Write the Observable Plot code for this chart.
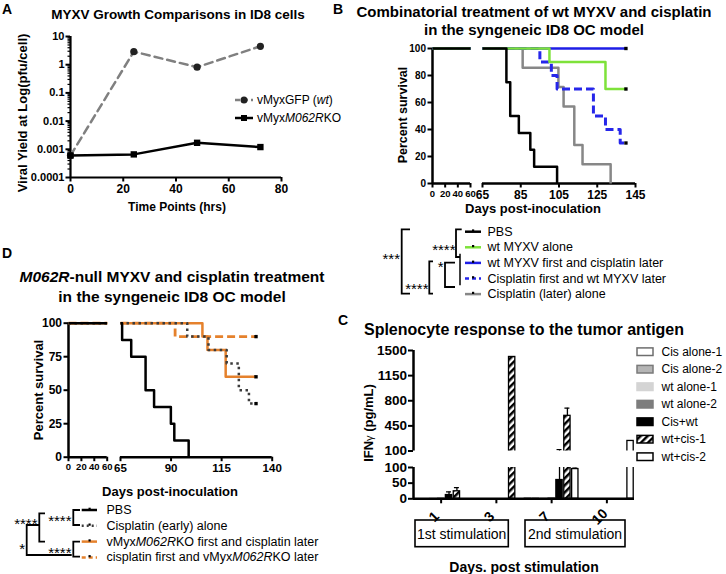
<!DOCTYPE html>
<html>
<head>
<meta charset="utf-8">
<script src="https://cdn.jsdelivr.net/npm/d3@7"></script>
<script src="https://cdn.jsdelivr.net/npm/@observablehq/plot@0.6"></script>
<style>
  html,body{margin:0;padding:0;background:#fff;}
  #fig{position:relative;width:726px;height:574px;overflow:hidden;background:#fff;font-family:"Liberation Sans",Arial,Helvetica,sans-serif;color:#000;}
  .t{position:absolute;white-space:nowrap;line-height:1;color:#000;font-family:"Liberation Sans",Arial,Helvetica,sans-serif;}
  .p{position:absolute;}
  .p svg{display:block;overflow:visible;}
</style>
</head>
<body>
<svg width="0" height="0" style="position:absolute">
  <defs>
    <pattern id="hatchC" patternUnits="userSpaceOnUse" width="5" height="5" patternTransform="rotate(45)">
      <rect width="5" height="5" fill="#fff"></rect>
      <rect width="2.5" height="5" fill="#000"></rect>
    </pattern>
  </defs>
</svg>
<div id="fig"></div>
<script>
const FONT = '"Liberation Sans", Arial, Helvetica, sans-serif';

// ===================== DATA =====================
// Panel A: viral yield (pfu/cell) by hours
const hoursA = [0, 24, 48, 72];
const yieldWT = [0.0006, 2.9, 0.82, 4.5];
const yieldKO = [0.0006, 0.00066, 0.0017, 0.0012];
const yTicksA = [0.0001, 0.001, 0.01, 0.1, 1, 10];
const xTicksA = [0, 20, 40, 60, 80];
const legendA = ["vMyxGFP (<i>wt</i>)", "vMyx<i>M062R</i>KO"];

// Panel B: Kaplan-Meier survival (days, percent)
const groupsB = ["PBS", "wt MYXV alone", "wt MYXV first and cisplatin later", "Cisplatin first and wt MYXV later", "Cisplatin (later) alone"];
const daysB_PBS = [0, 77.5, 79.5, 84, 90, 92, 104];
const survB_PBS = [100, 75, 50, 37.5, 25, 12.5, 0];
const daysB_wt = [0, 100, 129.3, 140];
const survB_wt = [100, 90, 70, 70];
const daysB_wtCis = [0, 140];
const survB_wtCis = [100, 100];
const daysB_cisWt = [0, 95, 101, 104, 123, 129.3, 137, 140];
const survB_cisWt = [100, 90, 80, 70, 50, 40, 30, 30];
const daysB_cis = [0, 86, 104.7, 107.4, 113, 117.3, 132];
const survB_cis = [100, 85.7, 71.4, 57.1, 28.6, 14.3, 0];
const yTicksB = [0, 20, 40, 60, 80, 100];
const xTicksB1 = [0, 20, 40, 60];
const xTicksB2 = [65, 85, 105, 125, 145];

// Panel D: Kaplan-Meier survival (days, percent)
const groupsD = ["PBS", "Cisplatin (early) alone", "vMyx<i>M062R</i>KO first and cisplatin later", "cisplatin first and vMyx<i>M062R</i>KO later"];
const daysD_PBS = [0, 65.8, 70.3, 77.4, 81.6, 89.9, 91.6, 98.7];
const survD_PBS = [100, 87.5, 75, 50, 37.5, 25, 12.5, 0];
const daysD_cis = [0, 98, 108.5, 117.5, 123.5, 128.5, 132];
const survD_cis = [100, 90, 80, 70, 50, 40, 40];
const daysD_koCis = [0, 105.5, 108, 117, 132];
const survD_koCis = [100, 90, 80, 60, 60];
const daysD_cisKo = [0, 92, 132];
const survD_cisKo = [100, 90, 90];
const yTicksD = [0, 25, 50, 75, 100];
const xTicksD1 = [0, 20, 40, 60];
const xTicksD2 = [65, 90, 115, 140];

// Panel C: IFN-gamma (pg/mL) by day post stimulation
const daysC = ["1", "3", "7", "10"];
const seriesC = ["Cis alone-1", "Cis alone-2", "wt alone-1", "wt alone-2", "Cis+wt", "wt+cis-1", "wt+cis-2"];
const ifn_cisAlone1 = [0, 0, 1, 0];
const ifn_cisAlone2 = [0, 0, 1, 0];
const ifn_wtAlone1 = [1, 0, 2, 0];
const ifn_wtAlone2 = [1, 0, 2, 0];
const ifn_cisWt = [12, 0, 60, 0];
const ifn_wtCis1 = [24, 1410, 590, 0];
const ifn_wtCis2 = [0, 0, 95, 240];
const err_cisWt = [10, 0, 60, 0];
const err_wtCis1 = [12, 0, 107, 0];
const err_wtCis2 = [0, 0, 3, 0];
const yTicksCHigh = [100, 450, 800, 1150, 1500];
const yTicksCLow = [0, 50, 100];
const stimGroups = ["1st stimulation", "2nd stimulation"];

// ===================== HELPERS =====================
const fig = document.getElementById("fig");
function addText(html, x, y, o = {}) {
  const el = document.createElement("div");
  el.className = "t";
  el.innerHTML = html;
  el.style.left = x + "px";
  el.style.top = y + "px";
  el.style.fontSize = (o.size || 12) + "px";
  el.style.fontWeight = o.bold ? "bold" : "normal";
  const a = o.anchor || "middle";
  const tx = a === "middle" ? "-50%" : a === "end" ? "-100%" : "0";
  el.style.transform = `translate(${tx},-50%)` + (o.rotate ? ` rotate(${o.rotate}deg)` : "");
  fig.appendChild(el);
  return el;
}
function place(node, left, top) {
  const d = document.createElement("div");
  d.className = "p";
  d.style.left = left + "px";
  d.style.top = top + "px";
  d.appendChild(node);
  fig.appendChild(d);
}
const plotStyle = (size) => ({background: "transparent", color: "#000", fontFamily: FONT, fontSize: size + "px", fontWeight: "bold", overflow: "visible"});

function survAt(days, surv, t) {
  let s = surv[0];
  for (let i = 0; i < days.length; i++) if (days[i] <= t) s = surv[i];
  return s;
}
function segment(days, surv, lo, hi) {
  const pts = [{d: lo, s: survAt(days, surv, lo)}];
  for (let i = 0; i < days.length; i++) if (days[i] > lo && days[i] <= hi) pts.push({d: days[i], s: surv[i]});
  const last = Math.min(hi, days[days.length - 1]);
  if (pts[pts.length - 1].d < last) pts.push({d: last, s: survAt(days, surv, last)});
  return pts;
}

function survPanel(cfg) {
  const [lo, hi] = cfg.xDomain;
  const marks = [];
  if (cfg.yTicks) {
    marks.push(Plot.axisY({ticks: cfg.yTicks, tickSize: 4.5, tickPadding: 2, strokeWidth: 2, fontSize: cfg.yFont, tickFormat: d => String(d), label: null}));
    marks.push(Plot.ruleX([lo], {strokeWidth: 2.5}));
  }
  marks.push(Plot.axisX({ticks: cfg.xTicks, tickSize: 4.5, tickPadding: 2, strokeWidth: 2, fontSize: cfg.xFont, tickFormat: d => String(d), label: null}));
  marks.push(Plot.ruleY([0], {strokeWidth: 2.5}));
  for (const g of cfg.groups) {
    const opts = {x: "d", y: "s", curve: "step-after", stroke: g.color, strokeWidth: g.width, strokeLinecap: "butt"};
    if (g.dash) opts.strokeDasharray = g.dash;
    marks.push(Plot.line(segment(g.days, g.surv, lo, hi), opts));
  }
  if (cfg.ends) {
    const ends = cfg.groups.filter(g => g.surv[g.surv.length - 1] > 0)
      .map(g => ({d: g.days[g.days.length - 1], s: g.surv[g.surv.length - 1]}));
    marks.push(Plot.dot(ends, {x: "d", y: "s", symbol: "square", r: 1.9, fill: "#000", stroke: "none"}));
  }
  return Plot.plot({
    width: cfg.width, height: cfg.height,
    marginLeft: cfg.ml, marginRight: cfg.mr, marginTop: cfg.mt, marginBottom: cfg.mb,
    style: plotStyle(cfg.xFont),
    x: {domain: cfg.xDomain, axis: null, label: null},
    y: {domain: [0, 100], axis: null, label: null},
    marks
  });
}

// ===================== PANEL A =====================
const rowsWT = hoursA.map((h, i) => ({h, v: yieldWT[i]}));
const rowsKO = hoursA.map((h, i) => ({h, v: yieldKO[i]}));
const minorA = [];
for (let e = -4; e < 1; e++) for (let k = 2; k <= 9; k++) minorA.push(k * Math.pow(10, e));
const plotA = Plot.plot({
  width: 300, height: 215, marginLeft: 70, marginRight: 19, marginTop: 36, marginBottom: 38,
  style: plotStyle(11),
  x: {domain: [0, 80], axis: null, label: null},
  y: {type: "log", domain: [1e-4, 10], axis: null, label: null},
  marks: [
    Plot.axisY({ticks: minorA, tickSize: 2.5, tickFormat: () => "", strokeWidth: 1.2, label: null}),
    Plot.axisY({ticks: yTicksA, tickSize: 4.5, tickPadding: 1.5, tickFormat: d => String(d), strokeWidth: 2, fontSize: 11, label: null}),
    Plot.axisX({ticks: xTicksA, tickSize: 4.5, tickPadding: 2, strokeWidth: 2, fontSize: 12, label: null}),
    Plot.ruleX([0], {strokeWidth: 2.2}),
    Plot.ruleY([1e-4], {strokeWidth: 2.2}),
    Plot.line(rowsWT, {x: "h", y: "v", stroke: "#808080", strokeWidth: 2.5, strokeDasharray: "8,5"}),
    Plot.line(rowsKO, {x: "h", y: "v", stroke: "#000", strokeWidth: 2.5}),
    Plot.dot(rowsWT, {x: "h", y: "v", r: 3.6, fill: "#222", stroke: "none"}),
    Plot.dot(rowsKO, {x: "h", y: "v", symbol: "square", r: 3.6, fill: "#000", stroke: "none"})
  ]
});
place(plotA, 0, 0);

// ===================== PANEL B =====================
const styleB = [
  {color: "#000", width: 2.5},
  {color: "#7ee23a", width: 2.5},
  {color: "#1e1ee6", width: 2.5},
  {color: "#2626ea", width: 3, dash: "8,4"},
  {color: "#878787", width: 2.5}
];
const dataB = [
  [daysB_PBS, survB_PBS], [daysB_wt, survB_wt], [daysB_wtCis, survB_wtCis], [daysB_cisWt, survB_cisWt], [daysB_cis, survB_cis]
];
const gB = groupsB.map((name, i) => ({name, days: dataB[i][0], surv: dataB[i][1], ...styleB[i]}));
const drawOrderB = [gB[4], gB[3], gB[2], gB[1], gB[0]];
place(survPanel({groups: drawOrderB, xDomain: [0, 60], xTicks: xTicksB1, yTicks: yTicksB, xFont: 9.5, yFont: 10,
  width: 95, height: 175, ml: 52, mr: 5, mt: 18, mb: 22}), 380, 30);
place(survPanel({groups: drawOrderB, xDomain: [65, 145], xTicks: xTicksB2, xFont: 12, ends: true,
  width: 170, height: 175, ml: 6, mr: 11, mt: 18, mb: 22}), 476, 30);

// ===================== PANEL D =====================
const styleD = [
  {color: "#000", width: 2.5},
  {color: "#3c3c3c", width: 2.5, dash: "2.5,3.5"},
  {color: "#e5812c", width: 2.5},
  {color: "#e5812c", width: 2.8, dash: "8,4"}
];
const dataD = [[daysD_PBS, survD_PBS], [daysD_cis, survD_cis], [daysD_koCis, survD_koCis], [daysD_cisKo, survD_cisKo]];
const gD = groupsD.map((name, i) => ({name, days: dataD[i][0], surv: dataD[i][1], ...styleD[i]}));
const drawOrderD = [gD[2], gD[3], gD[1], gD[0]];
place(survPanel({groups: drawOrderD, xDomain: [0, 60], xTicks: xTicksD1, yTicks: yTicksD, xFont: 9.5, yFont: 12,
  width: 90, height: 180, ml: 48, mr: 3.3, mt: 22.7, mb: 23.3}), 20, 300);
place(survPanel({groups: drawOrderD, xDomain: [65, 140], xTicks: xTicksD2, xFont: 11.5, ends: true,
  width: 170, height: 180, ml: 8, mr: 10.3, mt: 22.7, mb: 23.3}), 112, 300);

// ===================== PANEL C =====================
const valsC = [ifn_cisAlone1, ifn_cisAlone2, ifn_wtAlone1, ifn_wtAlone2, ifn_cisWt, ifn_wtCis1, ifn_wtCis2];
const errsC = [null, null, null, null, err_cisWt, err_wtCis1, err_wtCis2];
const styleC = [
  {fill: "#fff", stroke: "#6e6e6e"},
  {fill: "#b5b5b5", stroke: "#7a7a7a"},
  {fill: "#d4d4d4", stroke: "#d4d4d4"},
  {fill: "#7d7d7d", stroke: "#7d7d7d"},
  {fill: "#000", stroke: "#000"},
  {fill: "url(#hatchC)", stroke: "#000"},
  {fill: "#fff", stroke: "#000"}
];
const rowsC = [];
seriesC.forEach((s, si) => daysC.forEach((day, di) => rowsC.push({s, si, di, v: valsC[si][di], e: errsC[si] ? errsC[si][di] : 0})));
const cx1 = d => d.di - 0.5 + (d.si + 0.1) / 7;
const cx2 = d => d.di - 0.5 + (d.si + 0.9) / 7;
const cxm = d => d.di - 0.5 + (d.si + 0.5) / 7;

function cChart(cfg) {
  const marks = [
    Plot.axisY({ticks: cfg.yTicks, tickSize: 5, tickPadding: 1.5, strokeWidth: 2, fontSize: 13.5, tickFormat: d => String(d), label: null}),
    Plot.ruleX([-0.5], {strokeWidth: 2.5})
  ];
  seriesC.forEach((s, si) => {
    const rows = rowsC.filter(r => r.si === si && r.v > 0 && r.v > cfg.yDomain[0]);
    marks.push(Plot.rect(rows, {x1: cx1, x2: cx2, y1: () => 0, y2: "v", fill: styleC[si].fill, stroke: styleC[si].stroke, strokeWidth: 1.3, clip: true}));
  });
  const errRows = rowsC.filter(r => r.e > 0 && r.v + r.e > cfg.yDomain[0]);
  marks.push(Plot.ruleX(errRows, {x: cxm, y1: "v", y2: d => d.v + d.e, strokeWidth: 1.3, clip: true}));
  marks.push(Plot.ruleY(errRows, {y: d => d.v + d.e, x1: d => cxm(d) - 0.045, x2: d => cxm(d) + 0.045, strokeWidth: 1.3, clip: true}));
  if (cfg.bottom) {
    marks.push(Plot.axisX({ticks: [0, 1, 2, 3], tickFormat: () => "", tickSize: 5, strokeWidth: 2, label: null}));
    marks.push(Plot.ruleY([0], {strokeWidth: 2.5}));
    marks.push(Plot.text(daysC.map((d, i) => ({i, d})), {x: "i", y: () => 0, text: "d", rotate: -45, dx: -7, dy: 18, fontSize: 14, fontWeight: "bold"}));
  }
  return Plot.plot({
    width: 290, height: cfg.height, marginLeft: 53, marginRight: 16, marginTop: cfg.mt, marginBottom: cfg.mb,
    style: plotStyle(13.5),
    x: {domain: [-0.5, 3.5], axis: null, label: null},
    y: {domain: cfg.yDomain, axis: null, label: null},
    marks
  });
}
place(cChart({yDomain: [100, 1500], yTicks: yTicksCHigh, height: 130, mt: 20, mb: 9.5}), 360, 330);
place(cChart({yDomain: [0, 100], yTicks: yTicksCLow, height: 100, mt: 12, mb: 56.7, bottom: true}), 360, 455);

// ===================== TEXT =====================
addText("A", 7, 9, {size: 14, bold: true});
addText("MYXV Growth Comparisons in ID8 cells", 178, 15, {size: 13.5, bold: true});
addText("Viral Yield at Log(pfu/cell)", 22, 113, {size: 13, bold: true, rotate: -90});
addText("Time Points (hrs)", 177, 207, {size: 12, bold: true});
legendA.forEach((t, i) => addText(t, 257, 100 + i * 18, {size: 12, anchor: "start"}));

addText("B", 338, 9, {size: 14, bold: true});
addText("Combinatorial treatment of wt MYXV and cisplatin", 534, 11, {size: 15, bold: true});
addText("in the syngeneic ID8 OC model", 534, 29, {size: 15, bold: true});
addText("Percent survival", 403, 115, {size: 12.5, bold: true, rotate: -90});
addText("Days post-inoculation", 533, 208, {size: 13, bold: true});
groupsB.forEach((t, i) => addText(t, 487.5, 231.7 + i * 15.6, {size: 12.5, anchor: "start"}));

addText("D", 7, 253, {size: 14, bold: true});
addText("<i>M062R</i>-null MYXV and cisplatin treatment", 172, 277, {size: 15.5, bold: true});
addText("in the syngeneic ID8 OC model", 172, 297, {size: 15.5, bold: true});
addText("Percent survival", 38, 390, {size: 13, bold: true, rotate: -90});
addText("Days post-inoculation", 170, 491, {size: 13, bold: true});
groupsD.forEach((t, i) => addText(t, 106.5, 510 + i * 15.8, {size: 12.5, anchor: "start"}));

addText("C", 343, 320, {size: 14, bold: true});
addText("Splenocyte response to the tumor antigen", 524, 330, {size: 16, bold: true});
addText("IFN<span style='font-weight:normal;font-size:11px'>γ</span> (pg/mL)", 368, 423, {size: 13, bold: true, rotate: -90});
seriesC.forEach((t, i) => addText(t, 661.5, 351.7 + i * 17.5, {size: 12, anchor: "start"}));
addText("Days. post stimulation", 524, 566.5, {size: 14, bold: true});

// ===================== OVERLAY (legend keys, brackets, boxes) =====================
const ov = d3.create("svg").attr("width", 726).attr("height", 574)
  .style("position", "absolute").style("left", "0px").style("top", "0px").style("overflow", "visible");
fig.appendChild(ov.node());
const path = (d, w = 1.8) => ov.append("path").attr("d", d).attr("fill", "none").attr("stroke", "#000").attr("stroke-width", w);

// Legend A keys
ov.append("line").attr("x1", 235).attr("x2", 253).attr("y1", 100).attr("y2", 100).attr("stroke", "#808080").attr("stroke-width", 2.5).attr("stroke-dasharray", "5,3");
ov.append("circle").attr("cx", 244).attr("cy", 100).attr("r", 3.5).attr("fill", "#222");
ov.append("line").attr("x1", 235).attr("x2", 253).attr("y1", 118).attr("y2", 118).attr("stroke", "#000").attr("stroke-width", 2.5);
ov.append("rect").attr("x", 241).attr("y", 115).attr("width", 6).attr("height", 6).attr("fill", "#000");

// Legend B keys
gB.forEach((g, i) => {
  const y = 231.7 + i * 15.6;
  const l = ov.append("line").attr("x1", 465).attr("x2", 481).attr("y1", y).attr("y2", y).attr("stroke", g.color).attr("stroke-width", 2.5);
  if (g.dash) l.attr("stroke-dasharray", "4,3");
  ov.append("rect").attr("x", 472).attr("y", y - 2.3).attr("width", 2.2).attr("height", 2.2).attr("fill", "#000");
});
// Brackets B
path("M410,229.3 H401.7 V293.7 H410");
path("M433,261.3 H429.3 V293.7 H433");
path("M455,262.7 H445 V287 H455");
path("M460,253.7 V285.3", 1.5);
path("M461.7,229.3 H456 V257 H460");
addText("***", 400, 258, {size: 15, anchor: "end"});
addText("****", 428.5, 288, {size: 15, anchor: "end"});
addText("*", 443.5, 266, {size: 15, anchor: "end"});
addText("****", 455.5, 249, {size: 15, anchor: "end"});

// Legend D keys
gD.forEach((g, i) => {
  const y = 510 + i * 15.8;
  const l = ov.append("line").attr("x1", 81.7).attr("x2", 97).attr("y1", y).attr("y2", y).attr("stroke", g.color).attr("stroke-width", 2.5);
  if (g.dash) l.attr("stroke-dasharray", i === 1 ? "2,3" : "4,3");
  ov.append("rect").attr("x", 88.5).attr("y", y - 2.3).attr("width", 2.2).attr("height", 2.2).attr("fill", "#000");
});
// Brackets D
path("M45,513.3 H39.3 V541.7 H45");
path("M39.3,525 H26.7 V555 H71.7");
path("M80,510 H73.3 V525 H80");
path("M80,541.7 H73.3 V556.7 H80");
addText("****", 37.5, 523, {size: 15, anchor: "end"});
addText("*", 25, 548, {size: 15, anchor: "end"});
addText("****", 71.5, 520, {size: 15, anchor: "end"});
addText("****", 71.5, 552, {size: 15, anchor: "end"});

// Legend C swatches
styleC.forEach((st, i) => {
  const y = 351.7 + i * 17.5;
  ov.append("rect").attr("x", 637).attr("y", y - 3.8).attr("width", 16).attr("height", 7.6)
    .attr("fill", st.fill).attr("stroke", st.stroke).attr("stroke-width", 1.5);
});
// Stimulation boxes
const boxes = [[415, 508.3], [525, 625]];
stimGroups.forEach((t, i) => {
  ov.append("rect").attr("x", boxes[i][0]).attr("y", 520).attr("width", boxes[i][1] - boxes[i][0]).attr("height", 26.7)
    .attr("fill", "none").attr("stroke", "#000").attr("stroke-width", 1.6);
  addText(t, (boxes[i][0] + boxes[i][1]) / 2, 533.5, {size: 14});
});
</script>
</body>
</html>
